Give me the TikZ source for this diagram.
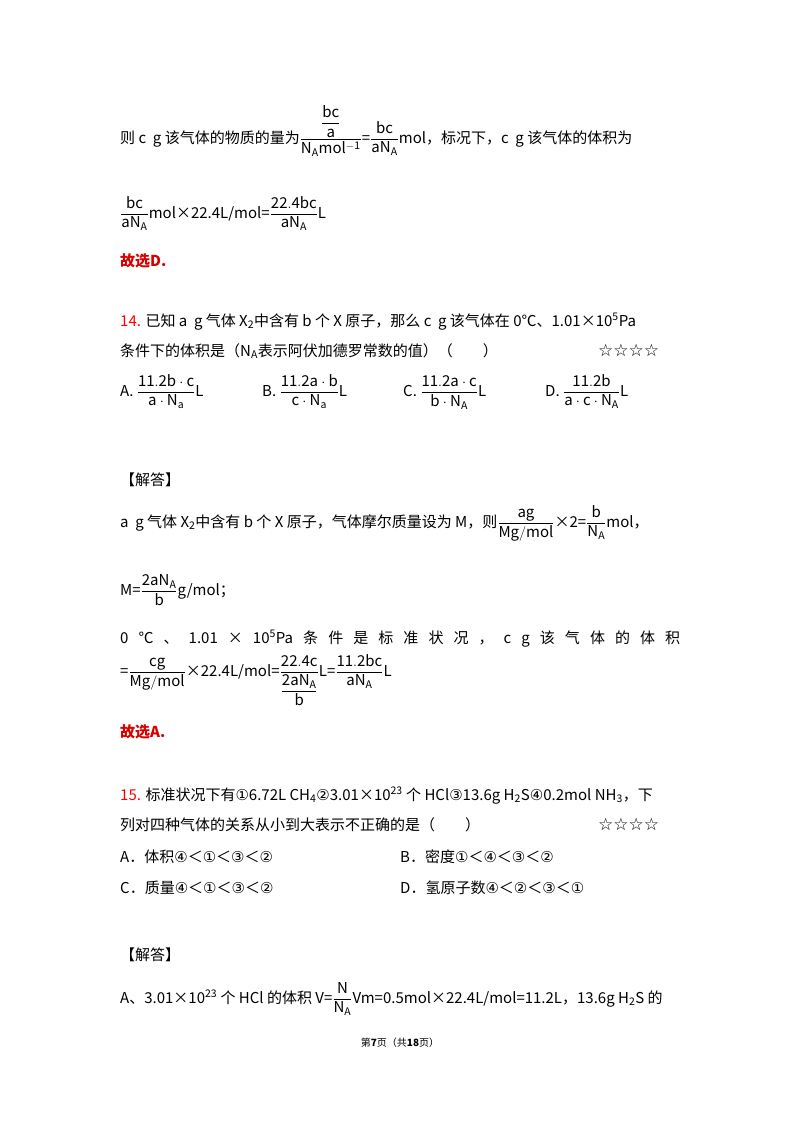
\documentclass[tikz,border=0pt]{standalone}
\usepackage{fontspec}
\usepackage{amsmath}
\setmainfont{Noto Sans CJK SC}
\newfontfamily\sym{DejaVu Sans}
\begin{document}
\begin{tikzpicture}[x=1pt,y=-1pt,
  t/.style={anchor=base west,inner sep=0pt,font=\fontsize{15}{18}\selectfont},
  red/.style={t,text=red!85!black,font=\fontsize{15}{18}\selectfont\bfseries}]
\useasboundingbox[fill=white] (0,0) rectangle (800,1132);
\newcommand\f[2]{$\dfrac{\mathrm{#1}}{\mathrm{#2}}$}
\newcommand\stars{{\fontsize{17}{18}\selectfont\sym☆☆☆☆}}
\node[t] (l1) at (120,143) {则 c\ \ g 该气体的物质的量为$\dfrac{\dfrac{\mathrm{bc}}{\mathrm{a}}}{\mathrm{N_A mol^{-1}}}$=\f{bc}{aN_A}mol，标况下，c\ \ g 该气体的体积为};
\node[t] (l2) at (120,218) {\f{bc}{aN_A}mol×22.4L/mol=\f{22.4bc}{aN_A}L};
\node[red] (ans1) at (120,266) {故选D.};
\node[t] (q14a) at (120,326) {\textcolor{red}{14.} 已知 a\ \ g 气体 X\textsubscript{2}中含有 b 个 X 原子，那么 c\ \ g 该气体在 0℃、1.01×10\textsuperscript{5}Pa};
\node[t] (q14b) at (120,356) {条件下的体积是（N\textsubscript{A}表示阿伏加德罗常数的值）（\qquad）};
\node[t] (s14) at (598,356) {\stars};
\node[t] (oA) at (120,396) {A. \f{11.2b\cdot c}{a\cdot N_a}L};
\node[t] (oB) at (262,396) {B. \f{11.2a\cdot b}{c\cdot N_a}L};
\node[t] (oC) at (403,396) {C. \f{11.2a\cdot c}{b\cdot N_A}L};
\node[t] (oD) at (545,396) {D. \f{11.2b}{a\cdot c\cdot N_A}L};
\node[t] (j1) at (120,485) {【解答】};
\node[t] (s1) at (120,527) {a\ \ g 气体 X\textsubscript{2}中含有 b 个 X 原子，气体摩尔质量设为 M，则\f{ag}{Mg/mol}×2=\f{b}{N_A}mol，};
\node[t] (s2) at (120,595) {M=\f{2aN_A}{b}g/mol；};
\node[t] (s3) at (120,643) {\makebox[560pt][s]{0 ℃ 、 1.01 × 10\textsuperscript{5}Pa 条 件 是 标 准 状 况 ， c g 该 气 体 的 体 积}};
\node[t] (s4) at (120,676) {=\f{cg}{Mg/mol}×22.4L/mol=$\dfrac{\mathrm{22.4c}}{\dfrac{\mathrm{2aN_A}}{\mathrm{b}}}$L=\f{11.2bc}{aN_A}L};
\node[red] (ans2) at (120,737) {故选A.};
\node[t] (q15a) at (120,800) {\textcolor{red}{15.} 标准状况下有\sym①\rmfamily 6.72L CH\textsubscript{4}\sym②\rmfamily 3.01×10\textsuperscript{23} 个 HCl\sym③\rmfamily 13.6g H\textsubscript{2}S\sym④\rmfamily 0.2mol NH\textsubscript{3}，下};
\node[t] (q15b) at (120,830) {列对四种气体的关系从小到大表示不正确的是（\qquad）};
\node[t] (s15) at (598,830) {\stars};
\node[t] (pA) at (120,862) {A．体积{\sym④}＜{\sym①}＜{\sym③}＜{\sym②}};
\node[t] (pB) at (400,862) {B．密度{\sym①}＜{\sym④}＜{\sym③}＜{\sym②}};
\node[t] (pC) at (120,893) {C．质量{\sym④}＜{\sym①}＜{\sym③}＜{\sym②}};
\node[t] (pD) at (400,893) {D．氢原子数{\sym④}＜{\sym②}＜{\sym③}＜{\sym①}};
\node[t] (j2) at (120,960) {【解答】};
\node[t] (s5) at (120,1003) {A、3.01×10\textsuperscript{23} 个 HCl 的体积 V=\f{N}{N_A}Vm=0.5mol×22.4L/mol=11.2L，13.6g H\textsubscript{2}S 的};
\node[anchor=base,inner sep=0pt,font=\fontsize{10}{12}\selectfont] (foot) at (400,1046) {第\textbf{7}页（共\textbf{18}页）};
\end{tikzpicture}
\end{document}
